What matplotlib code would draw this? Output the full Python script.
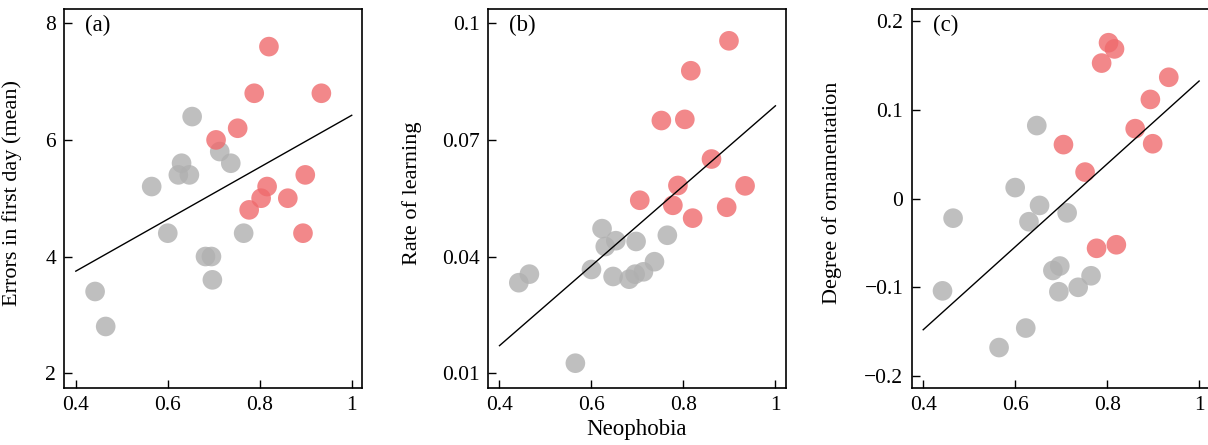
import numpy as np
import matplotlib
matplotlib.use("Agg")
import matplotlib.pyplot as plt

# ---- data ----
grey_x = [0.442, 0.465, 0.565, 0.600, 0.623, 0.630, 0.647, 0.653, 0.682, 0.695, 0.697, 0.713, 0.737, 0.765]
red_x = [0.705, 0.752, 0.777, 0.788, 0.803, 0.816, 0.820, 0.861, 0.894, 0.899, 0.934]

grey_errors = [3.4, 2.8, 5.2, 4.4, 5.4, 5.6, 5.4, 6.4, 4.0, 4.0, 3.6, 5.8, 5.6, 4.4]
red_errors = [6.0, 6.2, 4.8, 6.8, 5.0, 5.2, 7.6, 5.0, 4.4, 5.4, 6.8]

grey_rate = [0.0333, 0.0355, 0.0126, 0.0367, 0.0472, 0.0426, 0.0349, 0.0441, 0.0342, 0.0355, 0.0439, 0.0361, 0.0387, 0.0455]
red_rate = [0.0545, 0.0750, 0.0532, 0.0583, 0.0753, 0.0878, 0.0499, 0.0651, 0.0527, 0.0955, 0.0582]

grey_orn = [-0.104, -0.022, -0.168, 0.0125, -0.146, -0.026, 0.0825, -0.0076, -0.081, -0.105, -0.076, -0.016, -0.100, -0.087]
red_orn = [0.061, 0.030, -0.056, 0.153, 0.176, 0.169, -0.052, 0.079, 0.112, 0.062, 0.137]

panel_letters = ["(a)", "(b)", "(c)"]
y_labels = ["Errors in first day (mean)", "Rate of learning", "Degree of ornamentation"]
x_label = "Neophobia"
x_ticks = [0.4, 0.6, 0.8, 1.0]
x_ticklabels = ["0.4", "0.6", "0.8", "1"]
y_ticks = [[2, 4, 6, 8], [0.01, 0.04, 0.07, 0.1], [-0.2, -0.1, 0, 0.1, 0.2]]
y_ticklabels = [["2", "4", "6", "8"], ["0.01", "0.04", "0.07", "0.1"],
                ["\u22120.2", "\u22120.1", "0", "0.1", "0.2"]]
y_limits = [(1.75, 8.24), (0.0063, 0.1036), (-0.2133, 0.2137)]
fit_range = [0.4, 1.0]

# ---- style ----
plt.rcParams['font.family'] = ['Liberation Serif', 'DejaVu Serif']

fig = plt.figure(figsize=(12.08, 4.45), dpi=100)
W, H = 1208, 445
lefts = [64.3, 488.0, 911.7]
width_px = 298.0
top_px, bot_px = 9.3, 387.7
label_x = [-0.143, -0.2225, -0.235]

red_col = "#EF6A6D"
grey_col = "#B0B0B0"

ys_grey = [grey_errors, grey_rate, grey_orn]
ys_red = [red_errors, red_rate, red_orn]

for i in range(3):
    ax = fig.add_axes([lefts[i] / W, (H - bot_px) / H, width_px / W, (bot_px - top_px) / H])
    ax.scatter(grey_x, ys_grey[i], s=200, color=grey_col, alpha=0.8, edgecolors='none', zorder=2)
    ax.scatter(red_x, ys_red[i], s=200, color=red_col, alpha=0.8, edgecolors='none', zorder=2)
    allx = np.array(grey_x + red_x)
    ally = np.array(ys_grey[i] + ys_red[i])
    slope, intercept = np.polyfit(allx, ally, 1)
    fx = np.array(fit_range)
    ax.plot(fx, intercept + slope * fx, color='black', lw=1.0, zorder=3)
    ax.set_xlim(0.375, 1.023)
    ax.set_ylim(*y_limits[i])
    ax.set_xticks(x_ticks)
    ax.set_xticklabels(x_ticklabels)
    ax.set_yticks(y_ticks[i])
    ax.set_yticklabels(y_ticklabels[i])
    ax.tick_params(direction='in', length=6, width=1.0, labelsize=15.5, pad=6, colors='black')
    for sp in ax.spines.values():
        sp.set_linewidth(1.2)
    ax.set_ylabel(y_labels[i], fontsize=16)
    ax.yaxis.set_label_coords(label_x[i], 0.515)
    ax.text(0.07, 0.958, panel_letters[i], transform=ax.transAxes, fontsize=16.5,
            ha='left', va='center')
    if i == 1:
        ax.set_xlabel(x_label, fontsize=16.5, labelpad=3)

fig.savefig("out.png", dpi=100)
